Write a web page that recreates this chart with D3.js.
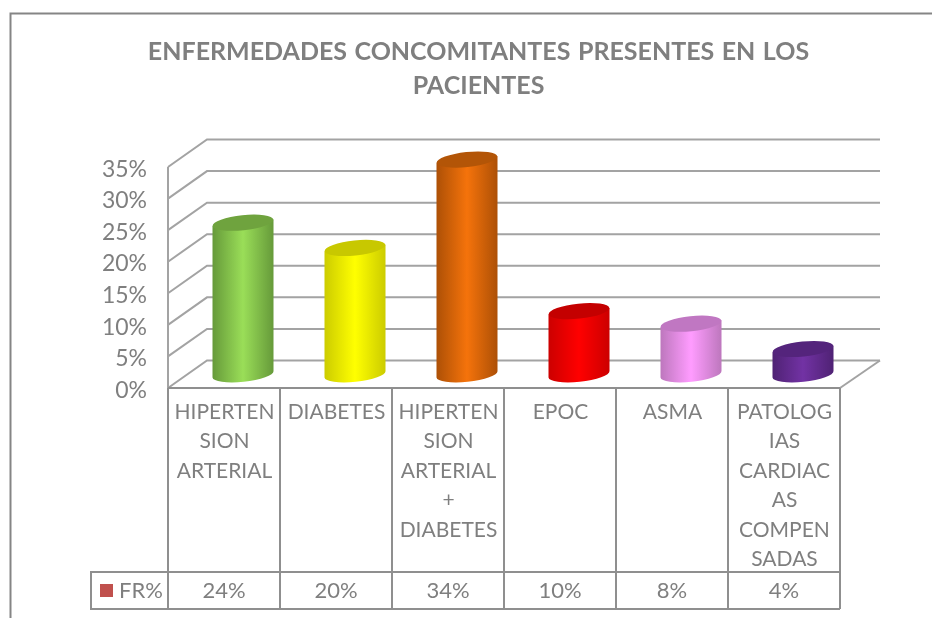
<!DOCTYPE html>
<html lang="es">
<head>
    <meta charset="UTF-8">
    <title>Enfermedades concomitantes</title>
    <script src="https://d3js.org/d3.v7.min.js"></script>
    <style>
        html, body { margin: 0; padding: 0; background: #fff; overflow: hidden; }
        svg { filter: blur(0.35px); }
        text { font-family: Lato, "Open Sans", sans-serif; fill: #7f7f7f; }
    </style>
</head>
<body>
<script>
    var titleLines = ["ENFERMEDADES CONCOMITANTES PRESENTES EN LOS", "PACIENTES"];
    var categories = [
        ["HIPERTEN", "SION", "ARTERIAL"],
        ["DIABETES"],
        ["HIPERTEN", "SION", "ARTERIAL", "+", "DIABETES"],
        ["EPOC"],
        ["ASMA"],
        ["PATOLOG", "IAS", "CARDIAC", "AS", "COMPEN", "SADAS"]
    ];
    var values = [0.24, 0.20, 0.34, 0.10, 0.08, 0.04];
    var yTicks = [0, 0.05, 0.10, 0.15, 0.20, 0.25, 0.30, 0.35];
    var seriesName = "FR%";
    var barColors = ["#9ade58", "#ffff00", "#f5730b", "#ff0000", "#ff9cff", "#7232a4"];
    var capColors = ["#6fa33e", "#c8c800", "#b35507", "#c40000", "#c077c2", "#54247c"];
    var edgeColors = ["#669a3a", "#cccc00", "#ad5006", "#cc0000", "#bd77bd", "#4f2274"];

    var width = 932, height = 618;
    var frontLeft = 168, frontRight = 840, floorY = 388, topY = 167;
    var depthX = 39, depthY = 27.5;
    var tableBottom = 609, legendTop = 572, legendLeft = 91;
    var gridColor = "#a3a3a3", lineColor = "#8f8f8f";

    var svg = d3.select("body").append("svg")
        .attr("width", width)
        .attr("height", height)
        .style("display", "block");

    var x = d3.scaleBand()
        .domain(d3.range(categories.length))
        .range([frontLeft, frontRight]);
    var y = d3.scaleLinear()
        .domain([0, 0.35])
        .range([floorY, topY]);

    // marco exterior
    svg.append("path")
        .attr("d", "M10.5," + (height + 4) + "V13.5H" + (width + 4))
        .attr("fill", "none")
        .attr("stroke", "#858585")
        .attr("stroke-width", 2);

    // titulo
    svg.append("g").selectAll("text")
        .data(titleLines)
        .enter()
        .append("text")
        .attr("x", 478.5)
        .attr("y", function(d, i) { return 60 + i * 34; })
        .attr("text-anchor", "middle")
        .attr("font-size", 25)
        .attr("font-weight", 700)
        .style("word-spacing", "1.4px")
        .text(function(d) { return d; });

    // lineas de la pared y el suelo
    var grid = svg.append("g")
        .attr("fill", "none")
        .attr("stroke", gridColor)
        .attr("stroke-width", 2);
    grid.selectAll("path")
        .data(yTicks)
        .enter()
        .append("path")
        .attr("d", function(d) {
            return "M" + frontLeft + "," + y(d) +
                "L" + (frontLeft + depthX) + "," + (y(d) - depthY) +
                "H" + (frontRight + depthX + 1);
        });
    grid.append("path")
        .attr("d", "M" + frontLeft + "," + topY + "V" + floorY);
    grid.append("path")
        .attr("d", "M" + frontRight + "," + floorY + "L" + (frontRight + depthX + 1) + "," + (floorY - depthY));

    // eje y
    var yAxis = d3.axisLeft(y)
        .tickValues(yTicks)
        .tickSize(0)
        .tickPadding(21)
        .tickFormat(d3.format(".0%"));
    var yG = svg.append("g")
        .attr("transform", "translate(" + frontLeft + ",0)")
        .call(yAxis);
    yG.select(".domain").remove();
    yG.selectAll("text")
        .attr("font-size", 23)
        .attr("dy", "0.4em")
        .style("font-family", "Lato, sans-serif")
        .style("fill", "#7f7f7f");

    // degradados de los cilindros
    var defs = svg.append("defs");
    values.forEach(function(v, i) {
        var g = defs.append("linearGradient").attr("id", "bar" + i);
        g.append("stop").attr("offset", "0%").attr("stop-color", edgeColors[i]);
        g.append("stop").attr("offset", "50%").attr("stop-color", barColors[i]);
        g.append("stop").attr("offset", "100%").attr("stop-color", edgeColors[i]);
    });

    // cilindros
    var rx = 30.5, ry = 7.5, tilt = -6, slope = 3.2;
    var midShift = depthX / 2 - 0.5, midY = depthY / 2;
    var bars = svg.append("g").selectAll("g")
        .data(values)
        .enter()
        .append("g")
        .attr("transform", function(d, i) {
            return "translate(" + (x(i) + x.bandwidth() / 2 + midShift) + ",0)";
        });
    bars.append("path")
        .attr("fill", function(d, i) { return "url(#bar" + i + ")"; })
        .attr("d", function(d) {
            var top = y(d) - midY, bottom = y(0) - midY;
            return "M" + (-rx) + "," + (top + slope) +
                "V" + (bottom + slope) +
                "A" + rx + "," + ry + " " + tilt + " 0 0 " + rx + "," + (bottom - slope) +
                "V" + (top - slope) + "Z";
        });
    bars.append("ellipse")
        .attr("rx", rx)
        .attr("ry", ry)
        .attr("fill", function(d, i) { return capColors[i]; })
        .attr("transform", function(d) {
            return "translate(0," + (y(d) - midY) + ") rotate(" + tilt + ")";
        });

    // tabla de datos
    var table = svg.append("g")
        .attr("fill", "none")
        .attr("stroke", lineColor)
        .attr("stroke-width", 2);
    table.selectAll("line.col")
        .data(d3.range(categories.length + 1))
        .enter()
        .append("line")
        .attr("class", "col")
        .attr("x1", function(d) { return frontLeft + d * x.step(); })
        .attr("x2", function(d) { return frontLeft + d * x.step(); })
        .attr("y1", floorY)
        .attr("y2", tableBottom);
    table.append("path")
        .attr("d", "M" + frontLeft + "," + floorY + "H" + frontRight);
    table.append("path")
        .attr("d", "M" + frontLeft + "," + legendTop + "H" + legendLeft + "V" + tableBottom + "H" + frontRight +
            "M" + frontLeft + "," + legendTop + "H" + frontRight);

    var cats = svg.append("g").selectAll("g")
        .data(categories)
        .enter()
        .append("g");
    cats.selectAll("text")
        .data(function(d, i) { return d.map(function(t) { return { t: t, i: i }; }); })
        .enter()
        .append("text")
        .attr("x", function(d) { return x(d.i) + x.bandwidth() / 2 + 0.5; })
        .attr("y", function(d, j) { return 418.5 + j * 29.5; })
        .attr("text-anchor", "middle")
        .attr("font-size", 21)
        .text(function(d) { return d.t; });

    svg.append("g").selectAll("text")
        .data(values)
        .enter()
        .append("text")
        .attr("x", function(d, i) { return x(i) + x.bandwidth() / 2; })
        .attr("y", 598)
        .attr("text-anchor", "middle")
        .attr("font-size", 22)
        .text(d3.format(".0%"));

    // leyenda
    svg.append("rect")
        .attr("x", 100)
        .attr("y", 584)
        .attr("width", 13)
        .attr("height", 13)
        .attr("fill", "#c0504d");
    svg.append("text")
        .attr("x", 119)
        .attr("y", 598)
        .attr("font-size", 22)
        .text(seriesName);
</script>
</body>
</html>
